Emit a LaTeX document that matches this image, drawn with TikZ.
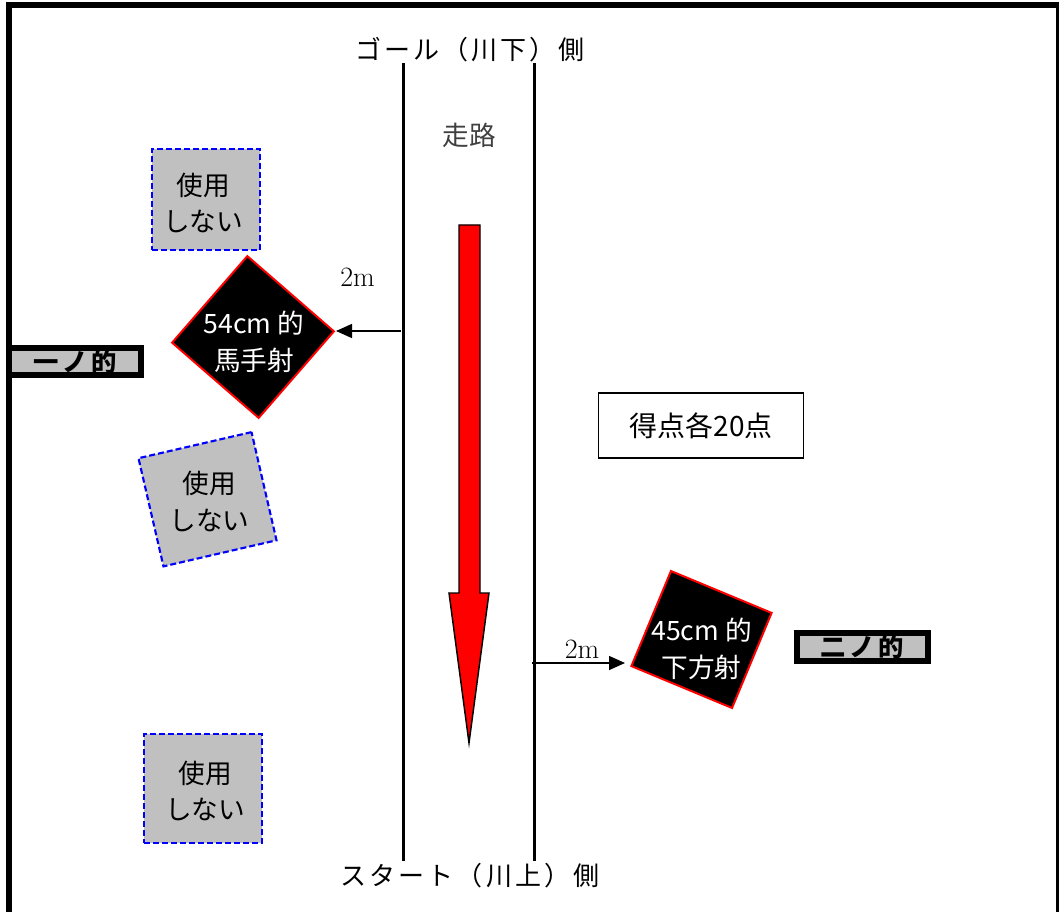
\documentclass[tikz,border=0pt]{standalone}
\usepackage{fontspec}
\newfontfamily\jp{Noto Sans CJK JP}
\usetikzlibrary{arrows.meta}
\definecolor{silver}{RGB}{192,192,192}
\begin{document}
\begin{tikzpicture}[x=0.75pt,y=-0.75pt,
  unused/.style={draw=blue, fill=silver, line width=1.6pt, dash pattern=on 4.5pt off 2.25pt, inner sep=0pt},
  target/.style={draw=red, fill=black, line width=1.5pt, inner sep=0pt},
  sidelbl/.style={font=\jp\fontsize{19.5}{22}\selectfont\addfontfeature{LetterSpace=12}, inner sep=0pt},
  boxtxt/.style={font=\jp\fontsize{20}{27.5}\selectfont, align=center, inner sep=0pt},
  whitetxt/.style={boxtxt, text=white},
  tagbox/.style={draw=black, fill=silver, line width=4.5pt, inner sep=0pt, font=\jp\bfseries\fontsize{19}{22}\selectfont\addfontfeature{LetterSpace=15}},
  lane/.style={line width=2.25pt},
  conn/.style={-{Triangle[length=12pt,width=10.5pt]}, line width=1.1pt},
  dist/.style={font=\fontsize{21}{25}\selectfont, inner sep=0pt}]
\useasboundingbox (0,0) rectangle (1059,912);
\clip (0,0) rectangle (1059,912);
% frame
\draw[line width=4.5pt] (9,960) -- (9,5.5) -- (1059,5.5) -- (1059,960);
% lanes
\coordinate (l1a) at (403,63); \coordinate (l1b) at (403,861);
\coordinate (l2a) at (534,63); \coordinate (l2b) at (534,861);
\draw[lane] (l1a) -- (l1b);
\draw[lane] (l2a) -- (l2b);
\node[sidelbl] (goal) at (470,50) {ゴール（川下）側};
\node[sidelbl] (start) at (470,876) {スタート（川上）側};
\node[boxtxt, text=black!75] (road) at (469,135) {走路};
% red arrow
\draw[fill=red, draw=black, line width=1.1pt, line join=miter]
  (459,225) -- (480,225) -- (480,593) -- (489,593) -- (469,743) -- (449,593) -- (459,593) -- cycle;
% unused boxes
\node[unused, minimum width=81pt, minimum height=75.75pt] (u1) at (206,199.5) {};
\node[boxtxt] (u1t) at (203,203) {使用\\しない};
\node[unused, minimum width=87pt, minimum height=83.25pt, rotate=13] (u2) at (207.5,499.25) {};
\node[boxtxt] (u2t) at (209.5,501.5) {使用\\しない};
\node[unused, minimum width=88.5pt, minimum height=81.75pt] (u3) at (203,788.5) {};
\node[boxtxt] (u3t) at (205,791) {使用\\しない};
% targets
\node[target, minimum width=86pt, minimum height=86pt, rotate=-41] (t1) at (253,337) {};
\node[whitetxt] (t1t) at (254,342) {54cm 的\\馬手射};
\node[target, minimum width=81.75pt, minimum height=77.25pt, rotate=-22.6] (t2) at (701.5,639.5) {};
\node[whitetxt] (t2t) at (701.5,649) {45cm 的\\下方射};
% tags
\node[tagbox, minimum width=99pt, minimum height=20.6pt] (tag1) at (75,361.75) {一ノ的};
\node[tagbox, minimum width=98.25pt, minimum height=21pt] (tag2) at (862.5,647) {二ノ的};
% score
\node[draw=black, line width=1.1pt, minimum width=153.75pt, minimum height=48.75pt, inner sep=0pt,
      font=\jp\fontsize{21}{25}\selectfont] (score) at (701,425.5) {得点各20点};
% 2m arrows
\coordinate (a1s) at (401,331); \coordinate (a1e) at (336,331);
\draw[conn] (a1s) -- (a1e);
\node[dist] (d1) at (357.5,277.5) {2m};
\coordinate (a2s) at (532,663); \coordinate (a2e) at (625,663);
\draw[conn] (a2s) -- (a2e);
\node[dist] (d2) at (582,649) {2m};
\end{tikzpicture}
\end{document}
